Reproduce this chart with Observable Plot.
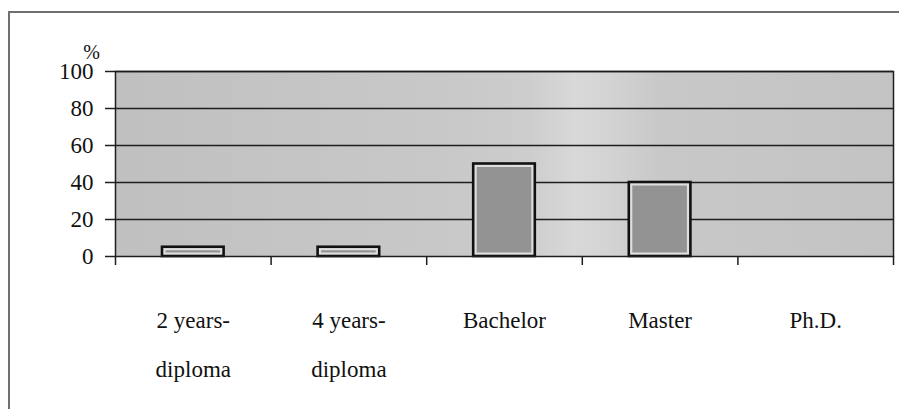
<!DOCTYPE html>
<html><head><meta charset="utf-8">
<script src="https://cdn.jsdelivr.net/npm/d3@7"></script>
<script src="https://cdn.jsdelivr.net/npm/@observablehq/plot@0.6"></script>
<style>
html,body{margin:0;padding:0;background:#fff;}
#wrap{position:relative;width:899px;height:409px;overflow:hidden;}
#border{position:absolute;left:8px;top:11px;width:900px;height:420px;border-left:2px solid #707070;border-top:2px solid #707070;}
#chart{position:absolute;left:0;top:0;}
</style></head><body>
<div id="wrap"><div id="border"></div><div id="chart"></div></div>
<script>
const categories = ["2 years-\ndiploma", "4 years-\ndiploma", "Bachelor", "Master", "Ph.D."];
const values = [5, 5, 50, 40, 0];
const yTicks = [0, 20, 40, 60, 80, 100];
const yUnit = "%";

const data = categories.map((c, i) => ({category: c, i, value: values[i]}));
const n = categories.length;
const font = "'Liberation Serif', 'Times New Roman', serif";

const plot = Plot.plot({
  width: 899, height: 409,
  marginLeft: 115, marginRight: 6, marginTop: 71, marginBottom: 153,
  style: {fontFamily: font, fontSize: "23px", color: "#111", background: "transparent"},
  x: {domain: [0, n], axis: null},
  y: {domain: [0, 100], axis: null},
  marks: [
    Plot.frame({fill: "url(#plotbg)", stroke: null}),
    Plot.gridY(yTicks.slice(1), {stroke: "#1e1e1e", strokeOpacity: 1, strokeWidth: 1.5}),
    Plot.rectY(data, {x1: "i", x2: d => d.i + 1, y: "value", insetLeft: 47, insetRight: 47, fill: "#dedede", stroke: "#111", strokeWidth: 2.6}),
    Plot.rectY(data, {x1: "i", x2: d => d.i + 1, y: "value", insetLeft: 50.5, insetRight: 50.5, insetTop: 3.5, insetBottom: 3.5, fill: "#939393"}),
    Plot.frame({stroke: "#1e1e1e", strokeWidth: 1.5}),
    Plot.axisY({ticks: yTicks, tickSize: 10, tickPadding: 12, label: null, fontSize: 23, stroke: "#1e1e1e", strokeWidth: 1.5}),
    Plot.axisX({ticks: d3.range(n + 1), tickSize: 9, tickFormat: () => "", label: null, stroke: "#1e1e1e", strokeWidth: 1.5}),
    Plot.axisX({ticks: d3.range(n).map(i => i + 0.5), tickSize: 0, tickPadding: 37, lineHeight: 2.13, label: null, fontSize: 23,
      tickFormat: t => categories[Math.floor(t)]}),
    Plot.text([yUnit], {frameAnchor: "top-left", textAnchor: "middle", lineAnchor: "middle", dx: -24, dy: -19, fontSize: 20, fill: "#111"})
  ]
});

plot.insertAdjacentHTML("afterbegin", `<defs><linearGradient id="plotbg" x1="0" x2="1" y1="0" y2="0">
<stop offset="0%" stop-color="#c0c0c0"/>
<stop offset="20%" stop-color="#c4c4c4"/>
<stop offset="42%" stop-color="#c8c8c8"/>
<stop offset="53%" stop-color="#cdcdcd"/>
<stop offset="59%" stop-color="#d8d8d8"/>
<stop offset="63%" stop-color="#d4d4d4"/>
<stop offset="70%" stop-color="#c8c8c8"/>
<stop offset="100%" stop-color="#c3c3c3"/>
</linearGradient></defs>`);
document.getElementById("chart").appendChild(plot);
</script>
</body></html>
